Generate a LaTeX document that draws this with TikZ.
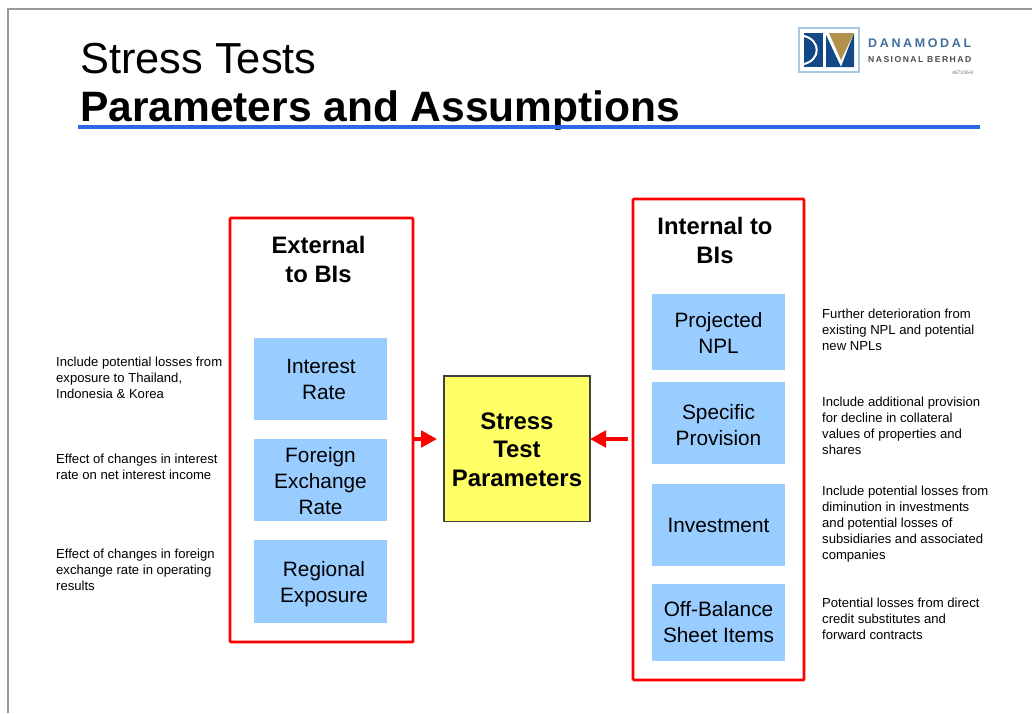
\documentclass[tikz,border=0pt]{standalone}
\usepackage{fontspec}
\setmainfont{Liberation Sans}
\usetikzlibrary{arrows.meta}
\definecolor{bluebox}{RGB}{153,204,255}
\definecolor{yellowbox}{RGB}{255,255,102}
\definecolor{titleline}{RGB}{45,105,230}
\definecolor{logoblue}{RGB}{18,72,135}
\definecolor{logogold}{RGB}{178,145,75}
\definecolor{logoframe}{RGB}{170,200,225}
\tikzset{
  x=1pt,y=-1pt,
  redframe/.style={draw=red,line width=2.8pt,rounded corners=1pt,fill=white,anchor=north west,inner sep=0pt,outer sep=0pt},
  item/.style={fill=bluebox,anchor=north west,inner sep=0pt,outer sep=0pt},
  itemtext/.style={inner sep=0pt,align=center,font=\fontsize{20.8}{26}\selectfont},
  note/.style={anchor=north west,inner sep=0pt,align=left,font=\fontsize{13.1}{16}\selectfont},
  head/.style={anchor=center,inner sep=0pt,align=center,font=\fontsize{23.8}{29}\selectfont\bfseries},
  centretext/.style={inner sep=0pt,align=center,font=\fontsize{23.9}{28.5}\selectfont\bfseries},
  link/.style={draw=red,line width=3.6pt,-{Triangle[length=16pt,width=16.5pt]}},
}
\begin{document}
\begin{tikzpicture}
\useasboundingbox (0,0) rectangle (1032,713);
\draw[draw=black!40,line width=1.6pt] (8,713) -- (8,9) -- (1032,9);
% title
\node[anchor=base west,inner sep=0pt,font=\fontsize{43.4}{48}\selectfont] (t1) at (80,73) {Stress Tests};
\node[anchor=base west,inner sep=0pt,font=\fontsize{42.5}{48}\selectfont\bfseries] (t2) at (80,121) {Parameters and Assumptions};
\fill[titleline] (78,125) rectangle (980,129);
% logo
\draw[logoframe,line width=1.2pt,fill=white] (799,28) rectangle (859,72);
\fill[logoblue] (804,33) rectangle (823,67);
\draw[white,line width=2pt] (804,36) .. controls (821,40) and (821,60) .. (804,64);
\fill[logoblue] (826,35) -- (841,67) -- (826,67) -- cycle;
\fill[logoblue] (854,33) -- (854,67) -- (841,67) -- cycle;
\fill[logogold] (829,33) -- (854,33) -- (841,60) -- cycle;
\node[anchor=west,inner sep=0pt,text=logoblue!80,font=\fontsize{12.5}{13}\selectfont\bfseries\addfontfeature{LetterSpace=21}] (l1) at (868,43) {DANAMODAL};
\node[anchor=west,inner sep=0pt,text=black!70,font=\fontsize{8.6}{9}\selectfont\bfseries\addfontfeature{LetterSpace=17}] (l2) at (868,60) {NASIONAL BERHAD};
\node[anchor=east,inner sep=0pt,text=black!55,font=\fontsize{5}{5}\selectfont] (l3) at (974,73) {467106-K};
% frames
\node[redframe,minimum width=183pt,minimum height=424pt] (ext) at (230,218) {};
\node[redframe,minimum width=171pt,minimum height=481pt] (int) at (633,199) {};
\node[head] (exth) at (318.5,259) {External\\to BIs};
\node[head] (inth) at (715,240) {Internal to\\BIs};
% external items
\node[item,minimum width=133pt,minimum height=82pt,label={[itemtext,xshift=3.5pt]center:Interest\hspace*{6pt}\\Rate}] (ir) at (254,338) {};
\node[item,minimum width=133pt,minimum height=82pt,label={[itemtext,yshift=-1pt]center:Foreign\\Exchange\\Rate}] (fx) at (254,439) {};
\node[item,minimum width=133pt,minimum height=83pt,label={[itemtext,xshift=3.5pt,yshift=-3pt]center:Regional\\Exposure}] (re) at (254,540) {};
% internal items
\node[item,minimum width=133pt,minimum height=76pt,label={[itemtext,yshift=-0.5pt]center:Projected\\NPL}] (npl) at (652,294) {};
\node[item,minimum width=133pt,minimum height=82pt,label={[itemtext,yshift=-2pt]center:Specific\\Provision}] (sp) at (652,382) {};
\node[item,minimum width=133pt,minimum height=82pt,label={[itemtext]center:Investment}] (inv) at (652,484) {};
\node[item,minimum width=133pt,minimum height=77pt,label={[itemtext]center:Off-Balance\\Sheet Items}] (off) at (652,584) {};
% centre
\node[draw=black!75,line width=1.2pt,fill=yellowbox,anchor=north west,inner sep=0pt,outer sep=0pt,minimum width=146pt,minimum height=145.5pt,label={[centretext,yshift=-1pt]center:Stress\\Test\\Parameters}] (stp) at (444,376) {};
% notes left
\node[note] (n1) at (56,357) {Include potential losses from\\exposure to Thailand,\\Indonesia \& Korea};
\node[note] (n2) at (56,454) {Effect of changes in interest\\rate on net interest income};
\node[note] (n3) at (56,549) {Effect of changes in foreign\\exchange rate in operating\\results};
% notes right
\node[note] (n4) at (822,309) {Further deterioration from\\existing NPL and potential\\new NPLs};
\node[note] (n5) at (822,397) {Include additional provision\\for decline in collateral\\values of properties and\\shares};
\node[note] (n6) at (822,486) {Include potential losses from\\diminution in investments\\and potential losses of\\subsidiaries and associated\\companies};
\node[note] (n7) at (822,598) {Potential losses from direct\\credit substitutes and\\forward contracts};
% connectors
\coordinate (al) at (ext.east |- 0,439);
\coordinate (alt) at (stp.west |- 0,439);
\coordinate (art) at (stp.east |- 0,439);
\coordinate (ar) at (int.west |- 0,439);
\draw[link,shorten >=7pt] (al) -- (alt);
\draw[link,shorten <=5pt] (ar) -- (art);
\end{tikzpicture}
\end{document}
